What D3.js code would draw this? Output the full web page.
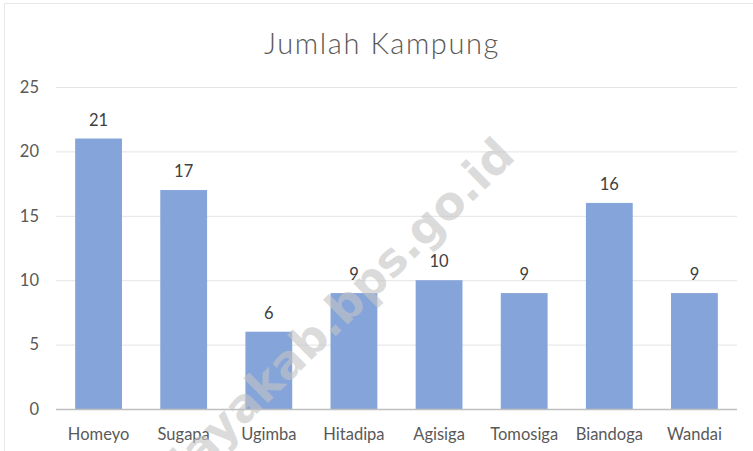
<!DOCTYPE html>
<html><head><meta charset="utf-8">
<script src="https://cdn.jsdelivr.net/npm/d3@7"></script>
<style>body{margin:0;background:#fff}svg{display:block}</style>
</head><body>
<svg id="c" width="753" height="451"></svg>
<script>
const categories = ["Homeyo","Sugapa","Ugimba","Hitadipa","Agisiga","Tomosiga","Biandoga","Wandai"];
const values = [21,17,6,9,10,9,16,9];
const yTicks = [0,5,10,15,20,25];
const title = "Jumlah Kampung";
const watermark = "intanjayakab.bps.go.id";

const svg = d3.select("#c");
const font = "Lato, 'Open Sans', sans-serif";

svg.append("rect").attr("x",4.5).attr("y",3.5).attr("width",800).attr("height",500)
  .attr("fill","none").attr("stroke","#d0d0d0").attr("stroke-dasharray","1,1");

const x = d3.scaleBand().domain(categories).range([56,737]).paddingInner(0.45).paddingOuter(0.225);
const y = d3.scaleLinear().domain([0,25]).range([409,87]);

// gridlines
svg.append("g").selectAll("line").data(yTicks.filter(d=>d>0)).join("line")
  .attr("x1",56).attr("x2",737).attr("y1",d=>y(d)+0.5).attr("y2",d=>y(d)+0.5)
  .attr("stroke","#e4e4e4").attr("stroke-width",1);

// y axis labels
const yAxis = d3.axisLeft(y).tickValues(yTicks).tickSize(0).tickPadding(17);
const gy = svg.append("g").attr("transform","translate(56,0)").call(yAxis);
gy.select(".domain").remove();
gy.selectAll("text").attr("font-family",font).attr("font-size",16.5).attr("fill","#595959");

// bars
svg.append("g").selectAll("rect").data(values).join("rect")
  .attr("x",(d,i)=>x(categories[i])).attr("width",x.bandwidth())
  .attr("y",d=>y(d)).attr("height",d=>y(0)-y(d))
  .attr("fill","#84a4da");

// data labels
svg.append("g").selectAll("text").data(values).join("text")
  .attr("x",(d,i)=>x(categories[i])+x.bandwidth()/2).attr("y",d=>y(d)-13)
  .attr("text-anchor","middle").attr("font-family",font).attr("font-size",16.5).attr("fill","#404040")
  .text(d=>d);

// x axis
svg.append("line").attr("x1",56).attr("x2",737).attr("y1",409.5).attr("y2",409.5)
  .attr("stroke","#bfbfbf").attr("stroke-width",1.5);
const xAxis = d3.axisBottom(x).tickSize(0).tickPadding(19);
const gx = svg.append("g").attr("transform","translate(0,409)").call(xAxis);
gx.select(".domain").remove();
gx.selectAll("text").attr("font-family",font).attr("font-size",16.5).attr("fill","#595959");

// watermark (on top, semi-transparent)
svg.append("text").attr("transform","translate(517,158) rotate(-44.5)")
  .attr("text-anchor","end").attr("font-family","'DejaVu Sans', Verdana, sans-serif")
  .attr("font-weight","bold").attr("font-size",46).attr("fill","#c4c4c4").attr("fill-opacity",0.6)
  .text(watermark);

// title
svg.append("text").attr("x",382).attr("y",54).attr("text-anchor","middle")
  .attr("font-family",font).attr("font-weight",300).attr("font-size",29).attr("fill","#595959")
  .attr("letter-spacing",1.6).text(title);
</script>
</body></html>
